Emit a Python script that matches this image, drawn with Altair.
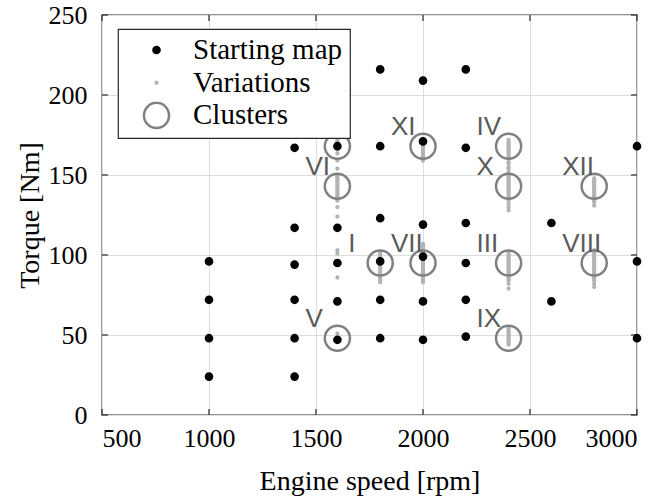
import altair as alt
import pandas as pd

# ---------------- data ----------------
types = ["Starting map", "Variations", "Clusters"]

map_rpm = [1000, 1000, 1000, 1000,
           1400, 1400, 1400, 1400, 1400, 1400,
           1600, 1600, 1600, 1600, 1600,
           1800, 1800, 1800, 1800, 1800, 1800,
           2000, 2000, 2000, 2000, 2000, 2000,
           2200, 2200, 2200, 2200, 2200, 2200,
           2600, 2600,
           3000, 3000, 3000]
map_torque = [96, 72, 48, 24,
              167, 117, 94, 72, 48, 24,
              168, 117, 95, 71, 47,
              216, 168, 123, 96, 72, 48,
              209, 171, 119, 99, 71, 47,
              216, 167, 120, 95, 72, 49,
              120, 71,
              168, 96, 48]

var_1600 = [172, 171, 170, 169, 168, 167, 166, 163.5, 159, 154, 150, 149, 148,
            147, 146, 145, 144, 143, 142, 141, 140, 139, 138, 137, 136, 135,
            134, 130, 124, 103, 101, 86, 51]
var_1800 = [101, 100, 99, 98, 97, 96, 95, 94, 93, 92, 91, 90, 89, 88, 87, 86,
            85, 84, 83]
var_2000 = [172, 171, 170, 169, 168, 167, 166, 165, 164, 163, 162, 161, 160,
            159, 107, 106, 105, 104, 103, 102, 101, 100, 99, 98, 97, 96, 95,
            94, 93, 92, 91, 90, 89, 88, 87, 86, 85, 84, 83]
var_2400 = [172, 171, 170, 169, 168, 167, 166, 165, 164, 163, 162, 161, 160,
            158, 157, 155, 154, 152, 150, 149, 148, 147, 146, 145, 144, 143,
            142, 141, 140, 139, 138, 137, 136, 135, 134, 132, 130, 128,
            102, 101, 100, 99, 98, 97, 96, 95, 94, 93, 92, 91, 90, 89, 88, 87,
            86, 85, 84, 82, 79,
            54, 53, 52, 51, 50, 49, 48, 47, 46, 45, 44]
var_2800 = [148, 147, 146, 145, 144, 143, 142, 141, 140, 139, 138, 137, 136,
            135, 134, 133, 131,
            103, 102, 101, 100, 99, 98, 97, 96, 95, 94, 93, 92, 91, 90, 89,
            88, 87, 86, 85, 84, 82, 80]

cluster_names = ["I", "II", "III", "IV", "V", "VI", "VII", "VIII", "IX", "X", "XI", "XII"]
cluster_rpm = [1800, 1600, 2400, 2400, 1600, 1600, 2000, 2800, 2400, 2400, 2000, 2800]
cluster_torque = [95, 168, 95, 168, 48, 143, 95, 95, 48, 143, 168, 143]

x_ticks = [500, 1000, 1500, 2000, 2500, 3000]
y_ticks = [0, 50, 100, 150, 200, 250]

# ---------------- tables ----------------
rows = []
for r, t in zip(map_rpm, map_torque):
    rows.append({"rpm": r, "torque": t, "type": "Starting map", "z": 2})
for rpm_val, lst in [(1600, var_1600), (1800, var_1800), (2000, var_2000),
                     (2400, var_2400), (2800, var_2800)]:
    for t in lst:
        rows.append({"rpm": rpm_val, "torque": t, "type": "Variations", "z": 1})
for r, t in zip(cluster_rpm, cluster_torque):
    rows.append({"rpm": r, "torque": t, "type": "Clusters", "z": 3})
pts = pd.DataFrame(rows)

labels = pd.DataFrame({"rpm": cluster_rpm, "torque": cluster_torque, "name": cluster_names})
xt = pd.DataFrame({"rpm": x_ticks})
yt = pd.DataFrame({"torque": y_ticks})

# ---------------- encodings ----------------
SERIF = "Liberation Serif"
AX = "#262626"

X = alt.X("rpm:Q", title="Engine speed [rpm]",
          scale=alt.Scale(domain=[500, 3000], nice=False, zero=False),
          axis=alt.Axis(values=x_ticks, format="d", ticks=False, domain=False,
                        grid=True, labelPadding=10, titlePadding=16))
Y = alt.Y("torque:Q", title="Torque [Nm]",
          scale=alt.Scale(domain=[0, 250], nice=False),
          axis=alt.Axis(values=y_ticks, format="d", ticks=False, domain=False,
                        grid=True, labelPadding=15, titlePadding=4))

legend = alt.Legend(title=None, orient="none", legendX=16, legendY=14,
                    symbolType="circle", symbolOffset=17, labelOffset=22,
                    rowPadding=3.7, padding=7, clipHeight=28)

fill = alt.Fill("type:N", legend=legend,
                scale=alt.Scale(domain=types, range=["#000000", "#b3b3b3", "transparent"]))
stroke = alt.Stroke("type:N", legend=legend,
                    scale=alt.Scale(domain=types, range=["#000000", "#b3b3b3", "#808080"]))
size = alt.Size("type:N", legend=legend,
                scale=alt.Scale(type="ordinal", domain=types, range=[38, 3, 630]))

points = alt.Chart(pts).mark_point(opacity=1, strokeWidth=2.5).encode(
    x=X, y=Y, fill=fill, stroke=stroke, size=size,
    order=alt.Order("z:Q")
)

text = alt.Chart(labels).mark_text(
    align="left", baseline="alphabetic", dx=-32, dy=-11.5,
    font="Liberation Sans", fontSize=26, color="#5a5a5a"
).encode(x=X, y=Y, text="name:N")

tick_style = dict(color=AX, strokeWidth=1.2)
xb = alt.Chart(xt).mark_rule(**tick_style).encode(x=X, y=alt.value(400), y2=alt.value(394))
xtp = alt.Chart(xt).mark_rule(**tick_style).encode(x=X, y=alt.value(0), y2=alt.value(6))
yl = alt.Chart(yt).mark_rule(**tick_style).encode(y=Y, x=alt.value(0), x2=alt.value(6))
yr = alt.Chart(yt).mark_rule(**tick_style).encode(y=Y, x=alt.value(535), x2=alt.value(529))

chart = alt.layer(xb, xtp, yl, yr, points, text).properties(
    width=535, height=400,
    autosize=alt.AutoSizeParams(type="none"),
    padding={"left": 102, "top": 15, "right": 26, "bottom": 82},
    background="white"
).configure_view(
    stroke=AX, strokeWidth=1.3
).configure_axis(
    labelFont=SERIF, labelFontSize=26, labelColor="#000000",
    titleFont=SERIF, titleFontSize=28, titleColor="#000000", titleFontWeight="normal",
    gridColor="#dedede", gridWidth=1
).configure_legend(
    labelFont=SERIF, labelFontSize=29, labelColor="#000000",
    fillColor="white", strokeColor=AX, strokeWidth=1.2, cornerRadius=0,
    symbolStrokeWidth=2.5, labelLimit=400
)

chart.save("out.html", embed_options={"renderer": "svg", "actions": False})
